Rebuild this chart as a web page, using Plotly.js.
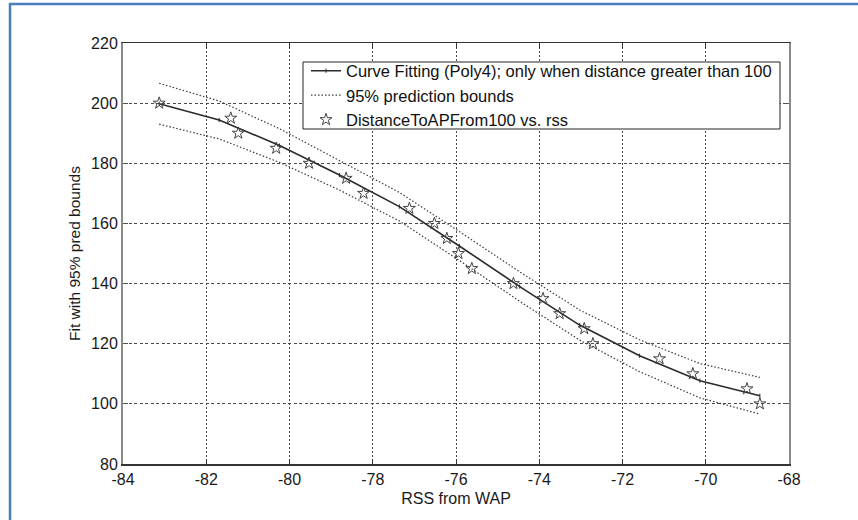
<!DOCTYPE html>
<html>
<head>
<meta charset="utf-8">
<script src="https://cdn.plot.ly/plotly-3.0.1.min.js"></script>
<style>html,body{margin:0;padding:0;background:#fff;}#chart{width:858px;height:520px;}</style>
</head>
<body>
<div id="chart"></div>
<script>
// Data points (stars)
const rssData = [-83.13, -81.41, -81.23, -80.32, -79.53, -78.64, -78.22, -77.12, -76.52, -76.22, -75.94, -75.62, -74.62, -73.91, -73.51, -72.92, -72.71, -71.11, -70.31, -69.01, -68.70];
const distData = [200, 195, 190, 185, 180, 175, 170, 165, 160, 155, 150, 145, 140, 135, 130, 125, 120, 115, 110, 105, 100];

// Fitted curve and prediction bounds
const fitX = [-83.13, -81.69, -80.24, -78.80, -77.36, -75.92, -74.47, -73.03, -71.59, -70.14, -68.70];
const fitY = [199.8, 194.4, 185.9, 176.1, 165.6, 152.5, 139.0, 126.2, 116.0, 107.7, 102.7];
const upperY = [206.6, 200.7, 191.5, 181.0, 170.3, 157.3, 143.9, 131.2, 121.3, 113.4, 108.8];
const lowerY = [193.0, 188.1, 180.3, 171.1, 160.8, 147.7, 134.1, 121.2, 110.7, 102.0, 96.6];

const xTicks = [-84, -82, -80, -78, -76, -74, -72, -70, -68];
const yTicks = [80, 100, 120, 140, 160, 180, 200, 220];

const names = ['Curve Fitting (Poly4); only when distance greater than 100', '95% prediction bounds', 'DistanceToAPFrom100 vs. rss'];

const traces = [
  {x: fitX, y: fitY, type: 'scatter', mode: 'lines+markers', name: names[0],
   line: {color: '#2b2b2b', width: 1.6},
   marker: {symbol: 'line-ns-open', size: 3, color: '#2b2b2b', line: {width: 1, color: '#2b2b2b'}}},
  {x: fitX, y: upperY, type: 'scatter', mode: 'lines', name: names[1],
   line: {color: '#3a3a3a', width: 1.2, dash: '1.5px,2px'}},
  {x: fitX, y: lowerY, type: 'scatter', mode: 'lines', name: names[1], showlegend: false,
   line: {color: '#3a3a3a', width: 1.2, dash: '1.5px,2px'}},
  {x: rssData, y: distData, type: 'scatter', mode: 'markers', name: names[2],
   marker: {symbol: 'star-open', size: 9, color: '#444444', line: {width: 1, color: '#444444'}}}
];

const L = 123, R = 789, T = 43, B = 464;
const px = v => (v - L) / (R - L);
const py = v => (B - v) / (B - T);

const layout = {
  width: 858, height: 520,
  margin: {l: L, r: 858 - R, t: T, b: 520 - B, pad: 0},
  paper_bgcolor: '#ffffff', plot_bgcolor: '#ffffff',
  font: {family: 'Liberation Sans, Arial, sans-serif', size: 16, color: '#1a1a1a'},
  showlegend: true,
  legend: {x: px(306), y: py(53.5), xanchor: 'left', yanchor: 'top',
    bgcolor: 'rgba(0,0,0,0)', borderwidth: 0,
    font: {family: 'Liberation Sans, Arial, sans-serif', size: 16.5, color: '#111111'},
    itemwidth: 30, tracegroupgap: 0},
  xaxis: {range: [-84, -68], tickvals: xTicks, ticktext: xTicks.map(String),
    showgrid: true, gridcolor: '#4a4a4a', griddash: '1.5px,2.5px', gridwidth: 1,
    zeroline: false, showline: true, linecolor: '#333333', linewidth: 1.5, mirror: 'ticks',
    ticks: 'inside', ticklen: 5, tickcolor: '#333333', tickfont: {size: 16},
    title: {text: 'RSS from WAP', font: {size: 16}, standoff: 6}},
  yaxis: {range: [80, 220], tickvals: yTicks, ticktext: yTicks.map(String),
    showgrid: true, gridcolor: '#4a4a4a', griddash: '3px,2.5px', gridwidth: 1,
    zeroline: false, showline: true, linecolor: '#8a8a8a', linewidth: 2, mirror: 'ticks',
    ticks: 'inside', ticklen: 5, tickcolor: '#555555', tickfont: {size: 16},
    title: {text: 'Fit with 95% pred bounds', font: {size: 15.5}, standoff: 7}},
  shapes: [
    {type: 'rect', xref: 'paper', yref: 'paper', x0: px(303), x1: px(780), y0: py(129), y1: py(62),
     fillcolor: '#ffffff', line: {color: '#222222', width: 1}, layer: 'above'},
    {type: 'line', xref: 'paper', yref: 'paper', x0: px(10), x1: px(10), y0: py(3), y1: py(520),
     line: {color: '#4a7ebb', width: 2.5}},
    {type: 'line', xref: 'paper', yref: 'paper', x0: px(9), x1: px(858), y0: py(4), y1: py(4),
     line: {color: '#4a7ebb', width: 2.5}}
  ]
};

Plotly.newPlot('chart', traces, layout, {displayModeBar: false, staticPlot: true});
</script>
</body>
</html>
